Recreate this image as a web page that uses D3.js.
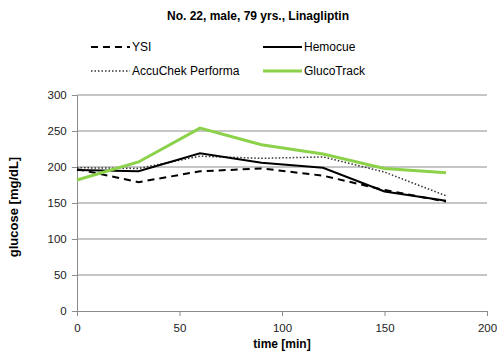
<!DOCTYPE html>
<html>
<head>
<meta charset="utf-8">
<title>No. 22, male, 79 yrs., Linagliptin</title>
<script src="https://d3js.org/d3.v7.min.js"></script>
<style>
body { margin: 0; background: #fff; }
svg text { font-family: "Liberation Sans", Arial, sans-serif; }
.grid line { stroke: #8c8c8c; stroke-width: 1; }
.axis path, .axis line { stroke: #8c8c8c; }
.axis text { font-size: 11.5px; fill: #222; }
</style>
</head>
<body>
<script>
// time points [min]
var times = [0, 30, 60, 90, 120, 150, 180];

// glucose [mg/dL] per device
var ysi        = [197, 179, 194, 198, 188, 168, 152];
var hemocue    = [196, 194, 219, 206, 199, 166, 153];
var accuchek   = [199, 198, 215, 212, 214, 193, 160];
var glucotrack = [182, 207, 254, 231, 218, 198, 192];

var xTicks = [0, 50, 100, 150, 200];
var yTicks = [0, 50, 100, 150, 200, 250, 300];

var series = [
  {name: "YSI", values: ysi, color: "#000", width: 2, dash: "7,5"},
  {name: "Hemocue", values: hemocue, color: "#000", width: 2, dash: null},
  {name: "AccuChek Performa", values: accuchek, color: "#333", width: 1.5, dash: "1.5,2"},
  {name: "GlucoTrack", values: glucotrack, color: "#8cd14a", width: 3, dash: null}
];

var W = 497, H = 360;
var margin = {top: 95, right: 10, bottom: 49, left: 77};
var width = 487 - margin.left, height = 311 - margin.top;

var svg = d3.select("body").append("svg")
    .attr("width", W)
    .attr("height", H);

var x = d3.scaleLinear().domain([0, 200]).range([0, width]);
var y = d3.scaleLinear().domain([0, 300]).range([height, 0]);

var g = svg.append("g")
    .attr("transform", "translate(" + margin.left + "," + margin.top + ")");

// horizontal gridlines
g.append("g").attr("class", "grid")
  .selectAll("line")
  .data(yTicks.slice(1))
  .enter().append("line")
    .attr("x1", 0).attr("x2", width)
    .attr("y1", function(d) { return y(d); })
    .attr("y2", function(d) { return y(d); });

g.append("g")
    .attr("class", "axis")
    .attr("transform", "translate(0," + height + ")")
    .call(d3.axisBottom(x).tickValues(xTicks).tickSize(5).tickSizeOuter(0))
    .selectAll("text").attr("dy", "1.1em");

g.append("g")
    .attr("class", "axis")
    .call(d3.axisLeft(y).tickValues(yTicks).tickSize(5).tickSizeOuter(0))
    .selectAll("text").attr("dx", "-0.2em");

var line = d3.line()
    .x(function(d, i) { return x(times[i]); })
    .y(function(d) { return y(d); });

// green on top, as in the original
var order = [0, 2, 1, 3];
order.forEach(function(k) {
  var s = series[k];
  g.append("path")
    .datum(s.values)
    .attr("fill", "none")
    .attr("stroke", s.color)
    .attr("stroke-width", s.width)
    .attr("stroke-dasharray", s.dash)
    .attr("d", line);
});

// title
svg.append("text")
    .attr("x", 258).attr("y", 20)
    .attr("text-anchor", "middle")
    .style("font-size", "12px")
    .style("font-weight", "bold")
    .text("No. 22, male, 79 yrs., Linagliptin");

// legend
var legPos = [[91, 47], [263, 47], [91, 71], [263, 71]];
series.forEach(function(s, i) {
  var p = legPos[i];
  var lg = svg.append("g").attr("transform", "translate(" + p[0] + "," + p[1] + ")");
  lg.append("line")
    .attr("x1", 0).attr("x2", 39)
    .attr("y1", 0).attr("y2", 0)
    .attr("stroke", s.color)
    .attr("stroke-width", s.width)
    .attr("stroke-dasharray", s.dash);
  lg.append("text")
    .attr("x", 41).attr("y", 4)
    .style("font-size", "12px")
    .text(s.name);
});

// axis titles
svg.append("text")
    .attr("x", 282).attr("y", 348)
    .attr("text-anchor", "middle")
    .style("font-size", "12px")
    .style("font-weight", "bold")
    .text("time [min]");

svg.append("text")
    .attr("transform", "translate(18," + (margin.top + height / 2 + 4) + ") rotate(-90)")
    .attr("text-anchor", "middle")
    .style("font-size", "13px")
    .style("font-weight", "bold")
    .text("glucose [mg/dL]");
</script>
</body>
</html>
